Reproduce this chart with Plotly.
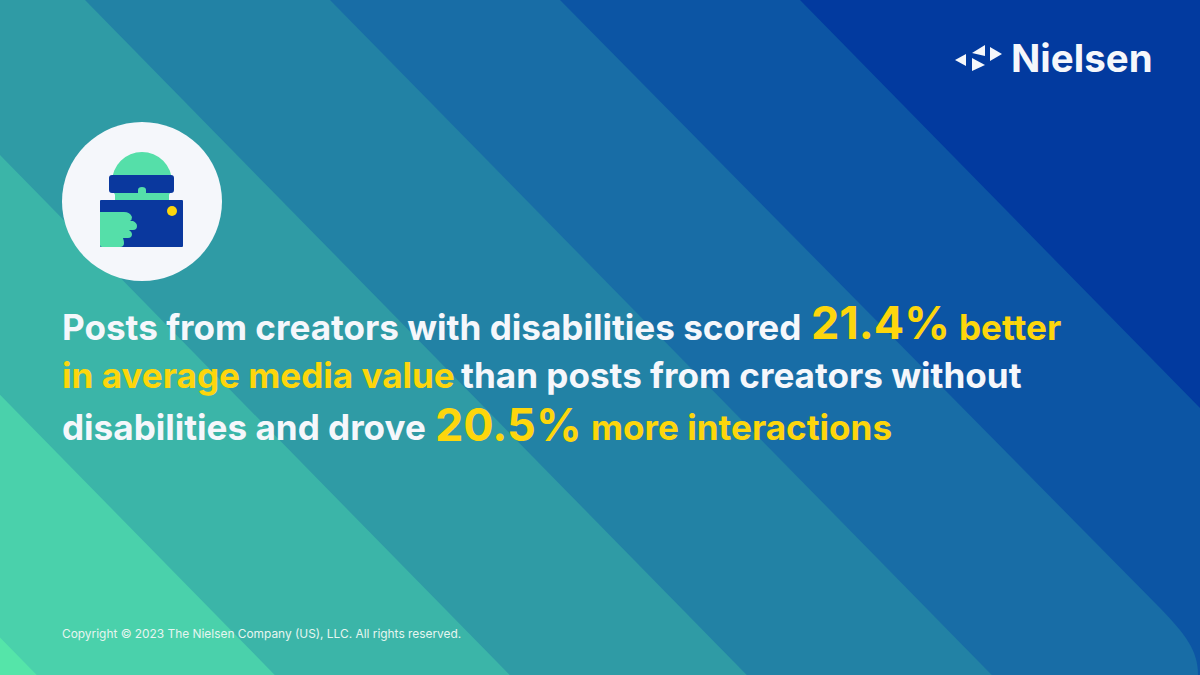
import plotly.graph_objects as go

# text fragments, line by line
LINE_1 = ["Posts from creators with disabilities scored", "21.4%", "better"]
LINE_2 = ["in average media value", "than posts from creators without"]
LINE_3 = ["disabilities and drove", "20.5%", "more interactions"]
COPYRIGHT = "Copyright © 2023 The Nielsen Company (US), LLC. All rights reserved."
BRAND = "Nielsen"

# background stripes, darkest first
BAND_COLORS = ["#0C55A4", "#186DA6", "#2282A5", "#2F9BA5", "#3BB5A8", "#4AD1AB", "#55E5A9"]
BAND_START = [800, 560, 330, 85, -152, -387, -625]

WHITE = "#F5F7FB"
YELLOW = "#FDD60C"
NAVY = "#0A389E"
MINT = "#55DFA9"
FONT = "Inter"

fig = go.Figure()


def add_poly(path, color):
    fig.add_shape(type="path", path=path, fillcolor=color, line_width=0, xref="x", yref="y")


def add_text(x, y, text, size, color, weight=700, anchor="left"):
    fig.add_annotation(
        x=x, y=y, text=text, showarrow=False, xanchor=anchor, yanchor="middle",
        xref="x", yref="y", borderpad=0, borderwidth=0,
        font=dict(family=FONT, size=size, color=color, weight=weight),
    )


# stripes
SLOPE = 1.02
for start, color in zip(BAND_START, BAND_COLORS):
    end = start + 675 / SLOPE
    if start == 560:
        # this one has the rounded corner at the bottom right
        path = f"M 560 0 L 1160 608 C 1185 634 1198 650 1198 675 L -10 675 L -10 0 Z"
    else:
        path = f"M {start} 0 L {end} 675 L -10 675 L -10 0 Z"
    add_poly(path, color)

# icon
fig.add_shape(type="circle", x0=62, x1=222, y0=122, y1=281, fillcolor=WHITE, line_width=0)
fig.add_shape(type="circle", x0=112, x1=172, y0=152, y1=212, fillcolor=MINT, line_width=0)
add_poly("M 115 186 L 169 186 L 169 202 L 115 202 Z", MINT)
add_poly("M 112 175 L 171 175 Q 174 175 174 178 L 174 190 Q 174 193 171 193 L 146 193 "
         "L 146 190 Q 146 187 142 187 Q 138 187 138 190 L 138 193 L 112 193 Q 109 193 109 190 "
         "L 109 178 Q 109 175 112 175 Z", NAVY)
add_poly("M 101 200 L 182 200 Q 183 200 183 201 L 183 246 Q 183 247 182 247 L 101 247 "
         "Q 100 247 100 246 L 100 201 Q 100 200 101 200 Z", NAVY)
fig.add_shape(type="circle", x0=167, x1=177, y0=206, y1=216, fillcolor=YELLOW, line_width=0)
add_poly("M 100 212 L 124 212 Q 130 212 132 217 Q 132 220 130 221 L 133 221 Q 137 223 137 226 "
         "Q 137 230 133 230 L 129 230 Q 132 232 132 234 Q 132 238 128 238 L 123 238 "
         "Q 124 241 124 243 Q 124 247 120 247 L 102 247 Q 100 247 100 245 Z", MINT)

# logo mark
add_poly("M 955 60 L 966 54 L 966 66 Z", WHITE)
add_poly("M 972 53 L 985 45 L 985 56 Z", WHITE)
add_poly("M 972 58 L 985 65 L 972 71 Z", WHITE)
add_poly("M 990 47 L 1002 54 L 990 61 Z", WHITE)
add_text(1011, 58, BRAND, 38.5, WHITE)

# headline
add_text(62, 327, LINE_1[0], 35.1, WHITE)
add_text(811, 322, LINE_1[1], 45, YELLOW)
add_text(959, 327, LINE_1[2], 35.1, YELLOW)
add_text(62, 375, LINE_2[0], 35.1, YELLOW)
add_text(461, 375, LINE_2[1], 35.1, WHITE)
add_text(62, 427, LINE_3[0], 35.1, WHITE)
add_text(435, 424, LINE_3[1], 45, YELLOW)
add_text(591, 427, LINE_3[2], 35.1, YELLOW)

add_text(62, 633, COPYRIGHT, 11.9, "#E6F5F0", weight=400)

fig.update_layout(
    width=1200,
    height=675,
    margin=dict(l=0, r=0, t=0, b=0),
    plot_bgcolor="#023A9F",
    paper_bgcolor="#023A9F",
    showlegend=False,
    xaxis=dict(range=[0, 1200], visible=False, fixedrange=True),
    yaxis=dict(range=[675, 0], visible=False, fixedrange=True),
)

fig.write_html(
    "out.html",
    config={"displayModeBar": False},
    post_script="document.body.style.margin='0';document.body.style.overflow='hidden';",
)
